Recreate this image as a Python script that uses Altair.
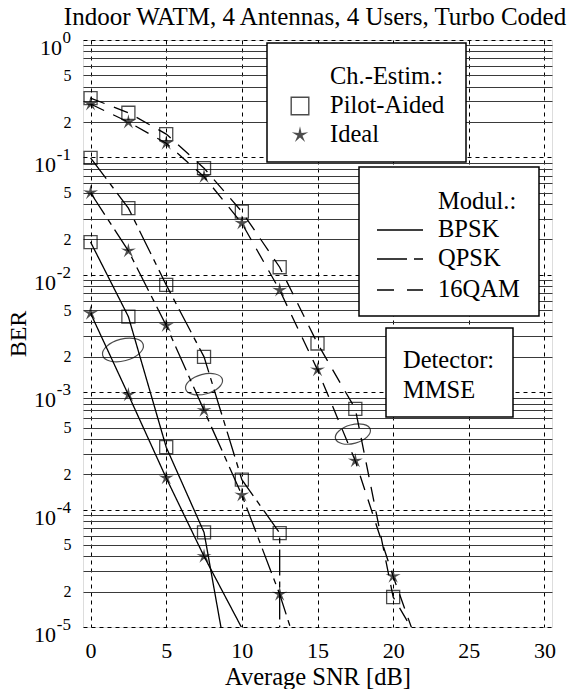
import math
import altair as alt
import pandas as pd

FONT = "Liberation Serif"

# ---------------- data ----------------
snr_grid = [0, 2.5, 5, 7.5, 10, 12.5, 15, 17.5, 20, 22.5]

bpsk_pilot = [1.9e-2, 4.4e-3, 3.4e-4, 6.4e-5, 1.0e-6]
bpsk_ideal = [4.7e-3, 9.5e-4, 1.86e-4, 4.0e-5, 9.8e-6]
qpsk_pilot = [9.9e-2, 3.7e-2, 8.2e-3, 2.0e-3, 1.8e-4, 6.3e-5]
qpsk_pilot_drop = [12.5, 1e-7]          # curve drops off the chart at 12.5 dB
qpsk_ideal = [5.0e-2, 1.6e-2, 3.7e-3, 7.0e-4, 1.33e-4, 1.9e-5, 1.9e-6]
qam16_pilot = [0.32, 0.24, 0.158, 0.081, 0.0345, 0.0116, 2.6e-3, 7.2e-4, 1.8e-5, 5.1e-6]
qam16_ideal = [0.285, 0.20, 0.132, 0.0685, 0.0275, 7.4e-3, 1.55e-3, 2.6e-4, 2.7e-5, 3.4e-6]

modulations = ["BPSK", "QPSK", "16QAM"]
estimations = ["Pilot-Aided", "Ideal"]

# grouping ellipses (centre in SNR / BER)
ellipse_snr = [2.14, 7.5, 17.34]
ellipse_ber = [2.29e-3, 1.17e-3, 4.4e-4]

decade_vals = [1e-1, 1e-2, 1e-3, 1e-4, 1e-5]
decade_exps = ["-1", "-2", "-3", "-4", "-5"]

title_text = "Indoor WATM, 4 Antennas, 4 Users, Turbo Coded"

# ---------------- table ----------------
series = [
    ("BPSK", "Pilot-Aided", snr_grid[:len(bpsk_pilot)], bpsk_pilot),
    ("BPSK", "Ideal", snr_grid[:len(bpsk_ideal)], bpsk_ideal),
    ("QPSK", "Pilot-Aided", snr_grid[:len(qpsk_pilot)] + [qpsk_pilot_drop[0]],
     qpsk_pilot + [qpsk_pilot_drop[1]]),
    ("QPSK", "Ideal", snr_grid[:len(qpsk_ideal)], qpsk_ideal),
    ("16QAM", "Pilot-Aided", snr_grid[:len(qam16_pilot)], qam16_pilot),
    ("16QAM", "Ideal", snr_grid[:len(qam16_ideal)], qam16_ideal),
]
rows = []
for mod, est, xs, ys in series:
    for i, (s, b) in enumerate(zip(xs, ys)):
        rows.append({"snr": s, "ber": b, "mod": mod, "est": est,
                     "series": mod + " " + est, "idx": i})
df = pd.DataFrame(rows)

ell_df = pd.DataFrame({"snr": ellipse_snr, "ber": ellipse_ber})
dec_df = pd.DataFrame({"ber": decade_vals, "exp": decade_exps})
top_df = pd.DataFrame({"ber": [1.0], "exp": ["0"]})
one = pd.DataFrame({"k": [0]})


# ---------------- marker shapes (unit-radius SVG paths) ----------------
def star_path(inner=0.3):
    pts = []
    for k in range(10):
        r = 1.0 if k % 2 == 0 else inner
        a = math.radians(-90 + 36 * k)
        pts.append(f"{r * math.cos(a):.4f},{r * math.sin(a):.4f}")
    return "M" + "L".join(pts) + "Z"


STAR = star_path()
ELLIPSE = "M-1,0A1,0.52,0,1,1,1,0A1,0.52,0,1,1,-1,0Z"

# ---------------- scales / axes ----------------
yvals = [float(f"{m}e{d}") for d in range(-5, 0) for m in range(1, 10)] + [1.0]
is_decade = "abs(log(datum.value)/LN10 - round(log(datum.value)/LN10)) < 0.001"
mant = "round(datum.value / pow(10, floor(log(datum.value)/LN10 + 1e-6)))"

xscale = alt.Scale(domain=[-0.5, 30.5], nice=False, zero=False)
yscale = alt.Scale(type="log", domain=[1e-5, 1], nice=False)

xaxis = alt.Axis(
    values=[0, 5, 10, 15, 20, 25, 30], grid=True, gridDash=[4, 4],
    gridColor="black", gridWidth=1, domain=False, ticks=False, tickSize=0,
    labelFont=FONT, labelFontSize=22, labelColor="black", labelPadding=30,
    labelBaseline="alphabetic", labelFlush=False,
    title="Average SNR [dB]", titleFont=FONT, titleFontSize=24.5,
    titleFontWeight="normal", titleColor="black", titleY=57,
    titleBaseline="alphabetic",
)
yaxis = alt.Axis(
    values=yvals, grid=True,
    gridDash={"condition": {"test": is_decade, "value": [4, 4]}, "value": []},
    gridColor={"condition": {"test": is_decade, "value": "black"}, "value": "#3a3a3a"},
    gridWidth=1, domain=False, ticks=False, tickSize=0,
    labelExpr=f"{mant} == 2 ? '2' : ({mant} == 5 ? '5' : '')",
    labelFont=FONT, labelFontSize=16, labelColor="black", labelPadding=12,
    labelBaseline="middle", labelOverlap=False, labelFlush=False,
    title="BER", titleFont=FONT, titleFontSize=24, titleFontWeight="normal",
    titleColor="black", titleX=-65, titleY=293.5, titleAngle=270,
    titleAlign="center", titleBaseline="middle",
)
X = alt.X("snr:Q", scale=xscale, axis=xaxis)
Y = alt.Y("ber:Q", scale=yscale, axis=yaxis)

dashes = [[1, 0], [26, 6, 6, 6], [15, 10]]

lines = alt.Chart(df).mark_line(clip=True, strokeWidth=1.3, color="black").encode(
    x=X, y=Y, detail="series:N", order="idx:Q",
    strokeDash=alt.StrokeDash("mod:N", scale=alt.Scale(domain=modulations, range=dashes),
                              legend=None),
)
squares = alt.Chart(df).transform_filter(
    "datum.ber >= 1e-5 && datum.est == 'Pilot-Aided'"
).mark_point(shape="square", size=170, filled=False, color="black",
             strokeWidth=1.3, clip=True).encode(x=X, y=Y)
stars = alt.Chart(df).transform_filter(
    "datum.ber >= 1e-5 && datum.est == 'Ideal'"
).mark_point(shape=STAR, size=250, filled=True, color="black",
             clip=True).encode(x=X, y=Y)

ellipse_sizes = [1764, 1444, 1296]
ellipses = [
    alt.Chart(ell_df.iloc[[i]]).mark_point(
        shape=ELLIPSE, size=sz, filled=False, color="black", strokeWidth=1.2,
        angle=345).encode(x=X, y=Y)
    for i, sz in enumerate(ellipse_sizes)
]

dec_base = alt.Chart(dec_df).mark_text(
    text="10", align="right", baseline="alphabetic", dy=15, fontSize=22,
    font=FONT, color="black").encode(x=alt.value(-27), y=Y)
dec_sup = alt.Chart(dec_df).mark_text(
    align="right", baseline="alphabetic", dy=3, fontSize=17, font=FONT,
    color="black").encode(x=alt.value(-12), y=Y, text="exp:N")
top_base = alt.Chart(top_df).mark_text(
    text="10", align="right", baseline="alphabetic", dy=15, fontSize=22,
    font=FONT, color="black").encode(x=alt.value(-21), y=Y)
top_sup = alt.Chart(top_df).mark_text(
    align="right", baseline="alphabetic", dy=3, fontSize=17, font=FONT,
    color="black").encode(x=alt.value(-12), y=Y, text="exp:N")

title = alt.Chart(one).mark_text(
    text=title_text, align="center", baseline="alphabetic", fontSize=25,
    font=FONT, color="black").encode(x=alt.value(232), y=alt.value(-15))


# ---------------- legend boxes ----------------
def box(x1, x2, y1, y2):
    return alt.Chart(one).mark_rect(fill="white", stroke="black", strokeWidth=1.5).encode(
        x=alt.value(x1), x2=alt.value(x2), y=alt.value(y1), y2=alt.value(y2))


def label(txt, x, y):
    return alt.Chart(one).mark_text(text=txt, align="left", baseline="middle",
                                    fontSize=24.5, font=FONT, color="black").encode(
        x=alt.value(x), y=alt.value(y))


def glyph(y, dash):
    return alt.Chart(one).mark_rule(color="black", strokeWidth=1.3, strokeDash=dash).encode(
        x=alt.value(294), x2=alt.value(340), y=alt.value(y))


legend_layers = [
    box(184, 383, 3, 122),
    label("Ch.-Estim.:", 247, 37),
    alt.Chart(one).mark_point(shape="square", size=310, filled=False, color="black",
                              strokeWidth=1.4).encode(x=alt.value(217), y=alt.value(66)),
    label("Pilot-Aided", 247, 66),
    alt.Chart(one).mark_point(shape=STAR, size=300, filled=True, color="black").encode(
        x=alt.value(217), y=alt.value(95)),
    label("Ideal", 247, 95),
    box(276, 456, 127, 276),
    label("Modul.:", 355, 162),
    glyph(190, [1, 0]), label("BPSK", 355, 190),
    glyph(219, [30, 7, 9, 7]), label("QPSK", 355, 219),
    glyph(250, [17, 13]), label("16QAM", 355, 250),
    box(303, 430, 288, 377),
    label("Detector:", 320, 321),
    label("MMSE", 320, 351),
]

chart = alt.layer(
    lines, squares, stars, *ellipses, dec_base, dec_sup, top_base, top_sup, title,
    *legend_layers,
).properties(
    width=469, height=587,
    padding={"left": 83, "top": 40, "right": 19, "bottom": 62},
    autosize=alt.AutoSizeParams(type="none"),
).configure_view(stroke="black", strokeWidth=1.5).configure(background="white")

chart.save("out.html", embed_options={"renderer": "svg", "actions": False})
